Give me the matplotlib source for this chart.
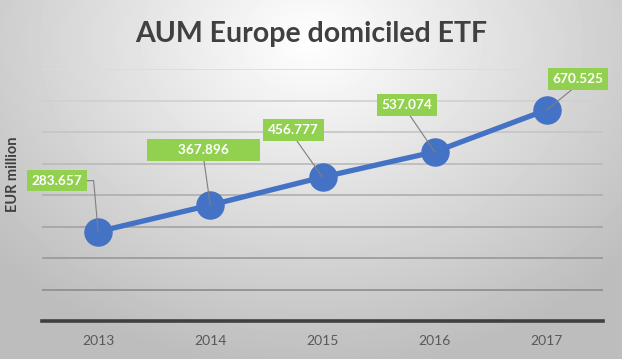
import numpy as np
import matplotlib
matplotlib.use("Agg")
import matplotlib.pyplot as plt

years = ["2013", "2014", "2015", "2016", "2017"]
aum = [283.657, 367.896, 456.777, 537.074, 670.525]
labels = ["283.657", "        367.896        ", "456.777", "537.074", "670.525"]
# label box offsets from the point, in pixels (dx, dy)
offsets = [(-41, 51), (-7, 55), (-29, 47), (-28, 47), (31, 31)]

plt.rcParams['font.family'] = ['Lato', 'DejaVu Sans']

W, H = 622, 359
fig = plt.figure(figsize=(W / 100, H / 100), dpi=100)

# radial grey background
bg = fig.add_axes([0, 0, 1, 1], zorder=-5)
yy, xx = np.mgrid[0:H, 0:W]
r = np.sqrt(((xx - 311) / 420.0) ** 2 + ((yy - 40) / 330.0) ** 2)
shade = np.clip(1.0 - 0.26 * r, 0.74, 1.0)
bg.imshow(shade, cmap="gray", vmin=0, vmax=1, aspect="auto", interpolation="bilinear")
bg.axis("off")

ax = fig.add_axes([42 / W, (H - 321) / H, (603 - 42) / W, (321 - 69) / H])
ax.set_facecolor("none")
x = np.arange(len(years))
ax.plot(x, aum, color="#4472C4", lw=3.8, marker="o", markersize=19.5, zorder=3)

ax.set_xlim(-0.5, len(years) - 0.5)
ax.set_ylim(0, 800)
ax.set_yticks(np.arange(100, 801, 100))
ax.set_xticks(x)
ax.set_xticklabels(years)
ax.tick_params(axis="x", length=0, pad=10, labelsize=10, labelcolor="#595959")
ax.tick_params(axis="y", length=0, labelleft=False)
ax.grid(axis="y", lw=1.2)
grid_cols = np.linspace(0.55, 0.86, 8)
for gl, c in zip(ax.get_ygridlines(), grid_cols):
    gl.set_color(str(c))
for s in ["top", "right", "left"]:
    ax.spines[s].set_visible(False)
ax.spines["bottom"].set_color("#404040")
ax.spines["bottom"].set_linewidth(2.6)
ax.set_axisbelow(True)

for i, (v, lab, (dx, dy)) in enumerate(zip(aum, labels, offsets)):
    if i == 0:
        ap = dict(arrowstyle="-", color="#7f7f7f", lw=0.8, shrinkA=0, shrinkB=0,
                  relpos=(1, 0.5), connectionstyle="angle,angleA=0,angleB=95,rad=0")
    else:
        ap = dict(arrowstyle="-", color="#7f7f7f", lw=0.8, shrinkA=0, shrinkB=0,
                  relpos=(0.5, 0))
    ax.annotate(lab, xy=(i, v), xytext=(dx, dy), textcoords="offset pixels",
                ha="center", va="center", fontsize=9.8, fontweight="bold", color="white",
                bbox=dict(boxstyle="square,pad=0.35", fc="#92D050", ec="none"),
                arrowprops=ap, zorder=5)

ax.set_ylabel("EUR million", fontsize=10.5, fontweight="bold", color="#404040")
ax.yaxis.set_label_coords(-0.040, 0.583)
fig.text(0.5, 1 - 34 / H, "AUM Europe domiciled ETF", ha="center", va="center",
         fontsize=20.5, fontweight="bold", color="#404040")

fig.savefig("out.png", dpi=100)
